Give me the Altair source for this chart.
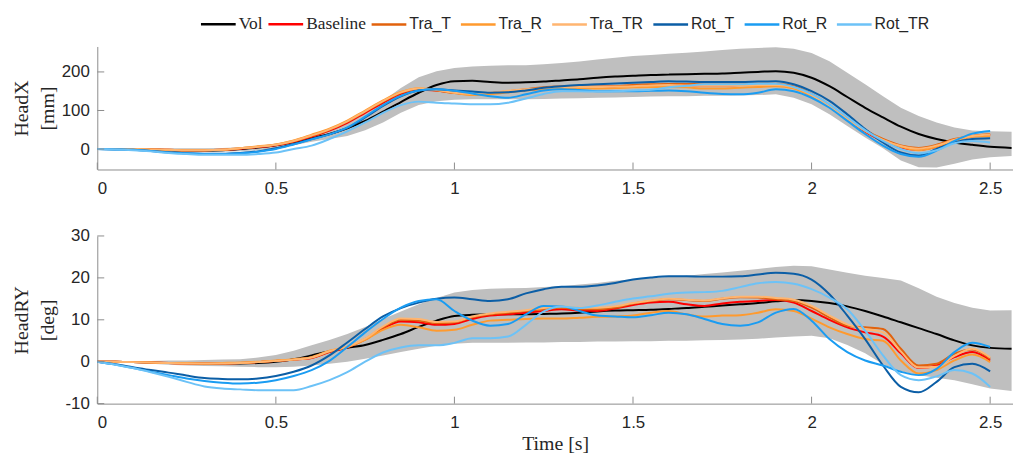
import altair as alt
import pandas as pd

# ---------------- data ----------------
T = [0.0, 0.05, 0.1, 0.15, 0.2, 0.25, 0.3, 0.35, 0.4, 0.45, 0.5,
     0.55, 0.6, 0.65, 0.7, 0.75, 0.8, 0.85, 0.9, 0.95, 1.0,
     1.05, 1.1, 1.15, 1.2, 1.25, 1.3, 1.35, 1.4, 1.45, 1.5,
     1.55, 1.6, 1.65, 1.7, 1.75, 1.8, 1.85, 1.9, 1.95, 2.0,
     2.05, 2.1, 2.15, 2.2, 2.25, 2.3, 2.35, 2.4, 2.45, 2.5]
T_VOL = T + [2.56]

SERIES = ["Vol", "Baseline", "Tra_T", "Tra_R", "Tra_TR", "Rot_T", "Rot_R", "Rot_TR"]
COLORS = ["#000000", "#ff0000", "#e2620c", "#ff9a2e", "#ffb570", "#0b5ea6", "#1a9cf2", "#6cc2f7"]
X_TICKS = [0, 0.5, 1, 1.5, 2, 2.5]

# ---- HeadX [mm] ----
HX_VOL = [0, 0, 0, -1, -3, -4, -4, -3, 0, 4, 10,
          18, 28, 39, 54, 73, 97, 122, 146, 166, 176,
          177, 174, 172, 173, 175, 178, 181, 185, 188, 190,
          192, 193, 194, 195, 196, 198, 200, 202, 198, 185,
          163, 135, 107, 82, 58, 39, 26, 17, 11, 6, 3]
HX_HI = [0, 1, 1, 2, 2, 2, 2, 3, 5, 8, 14,
         24, 37, 50, 69, 94, 125, 158, 186, 202, 210,
         214, 216, 217, 217, 220, 223, 227, 232, 237, 241,
         244, 247, 250, 253, 257, 260, 262, 264, 260, 249,
         228, 198, 168, 137, 107, 86, 69, 56, 48, 46, 45]
HX_LO = [0, -1, -2, -3, -5, -6, -7, -7, -6, -3, 2,
         10, 19, 26, 34, 49, 69, 94, 114, 124, 128,
         129, 129, 129, 129, 130, 131, 132, 133, 134, 135,
         136, 137, 137, 138, 138, 139, 140, 142, 133, 116,
         90, 60, 30, 2, -30, -47, -48, -38, -27, -21, -18]
HX_BASE = [0, 0, 0, -1, -2, -3, -3, -2, 1, 5, 10,
           19, 32, 48, 68, 94, 120, 143, 154, 152, 146,
           143, 145, 149, 153, 157, 160, 161, 161, 162, 164,
           166, 167, 166, 165, 165, 166, 167, 167, 160, 140,
           110, 76, 45, 20, 4, -2, 6, 22, 33, 37]
HX_TRA_T = [0, 0, 0, -1, -3, -3, -3, -2, 2, 6, 11,
            20, 34, 50, 71, 97, 123, 146, 156, 152, 145,
            142, 145, 150, 155, 160, 163, 163, 162, 163, 166,
            168, 169, 169, 168, 168, 168, 169, 169, 163, 143,
            114, 80, 49, 26, 9, 3, 11, 26, 34, 39]
HX_TRA_R = [0, 0, 0, -1, -2, -3, -3, -2, 2, 7, 12,
            22, 37, 53, 74, 100, 126, 148, 158, 154, 146,
            140, 142, 147, 152, 156, 158, 158, 157, 158, 160,
            161, 161, 160, 157, 157, 159, 161, 163, 157, 137,
            109, 77, 47, 21, 6, -3, 6, 21, 32, 34]
HX_TRA_TR = [0, 0, 0, -1, -2, -3, -3, -2, 2, 6, 11,
             21, 35, 51, 72, 98, 124, 147, 157, 153, 146,
             143, 146, 151, 155, 158, 160, 161, 161, 162, 163,
             165, 166, 165, 164, 164, 165, 166, 166, 160, 140,
             111, 78, 48, 24, 8, 1, 9, 24, 34, 38]
HX_ROT_T = [0, -1, -2, -5, -8, -11, -12, -12, -10, -6, 2,
            13, 26, 38, 55, 82, 112, 137, 152, 155, 152,
            149, 146, 147, 152, 159, 163, 166, 168, 170, 172,
            174, 176, 175, 174, 174, 174, 175, 176, 168, 150,
            125, 90, 52, 17, -9, -17, 0, 17, 26, 28]
HX_ROT_R = [0, -1, -2, -5, -9, -11, -13, -13, -11, -7, 0,
            12, 25, 38, 56, 84, 114, 138, 152, 155, 151,
            144, 137, 133, 142, 152, 155, 153, 150, 150, 150,
            151, 152, 150, 146, 143, 142, 146, 155, 150, 133,
            107, 73, 39, 9, -13, -20, -4, 21, 40, 47]
HX_ROT_TR = [0, -1, -3, -6, -10, -13, -15, -15, -15, -13, -9,
             0, 9, 26, 46, 69, 94, 114, 123, 120, 118,
             116, 116, 120, 131, 143, 150, 150, 149, 150, 152,
             154, 160, 164, 168, 168, 168, 169, 169, 161, 143,
             116, 83, 49, 21, 0, -11, -3, 15, 21, 17]

# ---- HeadRY [deg] ----
RY_VOL = [0, 0, -0.1, -0.2, -0.3, -0.3, -0.4, -0.4, -0.4, -0.3, 0,
          0.6, 1.5, 2.5, 3.3, 4.0, 5.2, 6.6, 8.3, 9.8, 10.9,
          11.2, 11.3, 11.3, 11.3, 11.4, 11.5, 11.7, 12.0, 12.2, 12.3,
          12.4, 12.6, 12.8, 13.1, 13.4, 13.7, 14.0, 14.4, 14.7, 14.5,
          14.0, 13.2, 12.1, 10.8, 9.4, 8.0, 6.6, 5.1, 3.9, 3.3, 3.1]
RY_HI = [0, 0.1, 0.2, 0.2, 0.3, 0.3, 0.4, 0.5, 0.6, 1.0, 1.6,
         2.6, 3.9, 5.2, 6.6, 8.3, 10.2, 12.0, 13.7, 15.2, 16.5,
         17.1, 17.4, 17.5, 17.6, 17.8, 18.0, 18.4, 18.8, 19.3, 19.7,
         20.0, 20.2, 20.5, 20.9, 21.3, 21.7, 22.1, 22.6, 22.9, 22.8,
         22.0, 21.2, 20.5, 20.0, 19.4, 17.5, 15.5, 14.0, 12.9, 12.2, 12.3]
RY_LO = [0, -0.1, -0.3, -0.5, -0.7, -0.9, -1.0, -1.1, -1.2, -1.3, -1.3,
         -1.2, -0.9, -0.5, 0, 0.7, 1.5, 2.3, 3.1, 3.8, 4.3,
         4.5, 4.5, 4.5, 4.6, 4.6, 4.7, 4.7, 4.8, 4.8, 4.9,
         4.9, 5.0, 5.0, 5.1, 5.2, 5.3, 5.5, 5.8, 6.0, 6.2,
         5.6, 4.0, 2.0, -0.6, -2.3, -3.2, -3.8, -4.4, -5.4, -6.4, -7.0]
RY_BASE = [0, 0, -0.1, -0.2, -0.3, -0.4, -0.4, -0.4, -0.3, -0.1, 0.2,
           0.5, 0.9, 2.3, 3.4, 5.3, 7.9, 9.6, 9.4, 8.8, 9.0,
           10.2, 11.0, 11.3, 11.7, 12.1, 12.5, 12.2, 12.1, 12.7, 13.5,
           14.1, 14.3, 13.7, 13.3, 13.9, 14.3, 14.5, 14.7, 14.1, 12.1,
           10.0, 8.2, 7.0, 6.0, 2.0, -1.5, -0.9, 1.1, 2.3, 0.3]
RY_TRA_T = [0, 0, -0.1, -0.2, -0.3, -0.4, -0.4, -0.4, -0.3, -0.1, 0.2,
            0.5, 1.0, 2.4, 3.5, 5.4, 8.2, 10.0, 9.8, 9.2, 9.4,
            10.6, 11.3, 11.7, 12.1, 12.5, 12.9, 12.5, 12.5, 12.9, 13.9,
            14.5, 14.9, 14.7, 14.5, 15.0, 15.4, 15.3, 14.9, 14.5, 12.9,
            10.6, 8.6, 8.2, 7.8, 3.1, -0.9, -0.5, 1.9, 2.9, 0.7]
RY_TRA_R = [0, 0, -0.1, -0.2, -0.3, -0.3, -0.4, -0.3, -0.2, 0, 0.3,
            0.6, 1.1, 2.6, 3.5, 5.2, 7.6, 8.8, 8.2, 7.4, 7.6,
            8.8, 9.8, 10.0, 10.2, 10.3, 10.3, 10.5, 10.7, 10.8, 11.0,
            11.7, 12.1, 11.3, 10.8, 11.0, 11.1, 11.7, 12.5, 12.1, 10.3,
            8.2, 6.6, 5.4, 5.0, 0.3, -2.8, -2.0, 0.3, 1.7, -0.1]
RY_TRA_TR = [0, 0, -0.1, -0.2, -0.3, -0.4, -0.4, -0.4, -0.3, -0.1, 0.2,
             0.5, 1.0, 2.5, 3.6, 5.5, 8.4, 10.3, 10.2, 9.5, 9.6,
             10.8, 11.5, 11.9, 12.3, 12.8, 13.2, 12.9, 12.9, 13.2, 14.0,
             14.6, 15.0, 14.8, 14.6, 15.1, 15.5, 15.5, 15.2, 14.8, 13.3,
             11.0, 8.9, 7.8, 7.0, 2.4, -1.4, -1.2, 1.4, 3.1, 1.0]
RY_ROT_T = [0, -0.6, -1.3, -2.0, -2.6, -3.3, -3.9, -4.1, -4.2, -4.0, -3.4,
            -2.4, -0.9, 1.5, 4.6, 7.8, 10.8, 12.8, 14.1, 15.0, 15.3,
            14.9, 14.5, 14.9, 16.3, 17.3, 17.9, 17.9, 18.2, 18.8, 19.6,
            20.1, 20.4, 20.4, 20.3, 20.3, 20.4, 20.8, 21.2, 21.0, 19.6,
            16.1, 11.0, 5.4, -0.9, -6.0, -7.3, -4.8, -1.3, -0.5, -2.3]
RY_ROT_R = [0, -0.7, -1.5, -2.4, -3.2, -4.0, -4.6, -5.0, -5.2, -5.0, -4.4,
            -3.4, -2.0, 0.2, 3.5, 7.0, 10.2, 12.9, 14.5, 14.9, 12.1,
            9.8, 8.6, 9.0, 11.3, 13.3, 13.2, 12.1, 11.0, 10.8, 10.6,
            11.1, 11.7, 11.3, 10.2, 9.0, 8.6, 9.4, 11.7, 12.6, 9.8,
            5.4, 2.3, 0.3, -0.9, -2.4, -3.2, -1.7, 2.3, 4.5, 3.5]
RY_ROT_TR = [0, -0.7, -1.5, -2.5, -3.6, -4.8, -5.9, -6.4, -6.6, -6.8, -6.8,
             -6.8, -5.8, -4.4, -2.5, 0, 2.2, 3.4, 3.9, 3.9, 4.5,
             5.6, 5.6, 6.0, 8.8, 12.0, 13.2, 12.8, 13.4, 14.3, 15.1,
             15.6, 16.2, 16.5, 16.6, 16.9, 17.8, 18.7, 19.0, 18.6, 17.3,
             15.3, 12.5, 7.4, 1.5, -3.2, -4.4, -3.5, -2.0, -2.8, -6.0]


def lines_df(vol, base, others):
    rows = []
    for t, v in zip(T_VOL, vol):
        rows.append({"t": t, "value": v, "series": "Vol"})
    for t, v in zip(T, base):
        rows.append({"t": t, "value": v, "series": "Baseline"})
    for name, vals in zip(SERIES[2:], others):
        for t, v in zip(T, vals):
            rows.append({"t": t, "value": v, "series": name})
    return pd.DataFrame(rows)


def band_df(lo, hi):
    return pd.DataFrame({"t": T_VOL, "lo": lo, "hi": hi})


AXIS_GRAY = "#8c8c8c"
TEXT = "#262626"
X_DOMAIN = [0, 2.564]
W = 923

# a long horizontal stroke starting at the left edge of its layout box
LINE_SYMBOL = "M-1,0L2.5,0"

LEG_A = alt.Legend(title=None, orient="none", legendX=103, legendY=-34,
                   direction="horizontal", symbolType=LINE_SYMBOL, symbolSize=400,
                   symbolStrokeWidth=2.5, labelFont="Liberation Serif",
                   labelFontSize=17.5, labelColor=TEXT, labelOffset=16.5,
                   columnPadding=0, padding=0)
LEG_B = alt.Legend(title=None, orient="none", legendX=275, legendY=-34,
                   direction="horizontal", symbolType=LINE_SYMBOL, symbolSize=400,
                   symbolStrokeWidth=2.5, labelFont="Liberation Sans",
                   labelFontSize=16, labelColor=TEXT, labelOffset=16.5,
                   columnPadding=4, padding=0)


def panel(df, band, ydomain, yvalues, ytitle, height, xtitle):
    xs = alt.Scale(domain=X_DOMAIN, nice=False, zero=False)
    ys = alt.Scale(domain=ydomain, nice=False, zero=False)
    xaxis = alt.Axis(values=X_TICKS, format="~g", title=xtitle)
    yaxis = alt.Axis(values=yvalues, labelExpr="'' + datum.value", title=ytitle)
    x = alt.X("t:Q", scale=xs, axis=xaxis)

    area = alt.Chart(band).mark_area(color="#bfbfbf", opacity=1, clip=True).encode(
        x=x, y=alt.Y("lo:Q", scale=ys, axis=yaxis), y2="hi:Q")

    dA = df[df.series.isin(SERIES[:2])]
    dB = df[~df.series.isin(SERIES[:2])]
    la = alt.Chart(dA).mark_line(strokeWidth=2, clip=True, interpolate="monotone").encode(
        x=x, y=alt.Y("value:Q", scale=ys, axis=yaxis),
        stroke=alt.Stroke("series:N", scale=alt.Scale(domain=SERIES[:2], range=COLORS[:2]),
                          legend=LEG_A))
    lb = alt.Chart(dB).mark_line(strokeWidth=2, clip=True, interpolate="monotone").encode(
        x=x, y=alt.Y("value:Q", scale=ys, axis=yaxis),
        color=alt.Color("series:N", scale=alt.Scale(domain=SERIES[2:], range=COLORS[2:]),
                        legend=LEG_B))

    xt = alt.Chart(pd.DataFrame({"t": X_TICKS})).mark_rule(color=AXIS_GRAY, strokeWidth=1).encode(
        x=x, y=alt.value(height), y2=alt.value(height - 7))
    yt = alt.Chart(pd.DataFrame({"value": yvalues})).mark_rule(color=AXIS_GRAY, strokeWidth=1).encode(
        y=alt.Y("value:Q", scale=ys, axis=yaxis), x=alt.value(0), x2=alt.value(7))

    return alt.layer(area, la, lb, xt, yt).properties(width=W, height=height)


top = panel(lines_df(HX_VOL, HX_BASE, [HX_TRA_T, HX_TRA_R, HX_TRA_TR, HX_ROT_T, HX_ROT_R, HX_ROT_TR]),
            band_df(HX_LO, HX_HI), [-53, 266], [0, 100, 200], ["HeadX", "[mm]"], 124, None)
bottom = panel(lines_df(RY_VOL, RY_BASE, [RY_TRA_T, RY_TRA_R, RY_TRA_TR, RY_ROT_T, RY_ROT_R, RY_ROT_TR]),
               band_df(RY_LO, RY_HI), [-10, 30], [-10, 0, 10, 20, 30], ["HeadRY", "[deg]"], 169,
               "Time [s]")

chart = alt.vconcat(top, bottom, spacing=67, bounds="flush").configure(
    padding={"left": 4, "top": 3, "right": 0, "bottom": 0},
    font="Liberation Sans",
).configure_view(stroke=None).configure_axis(
    grid=False, domainColor=AXIS_GRAY, domainWidth=1, ticks=False,
    labelColor=TEXT, labelFont="Liberation Sans", labelFontSize=17,
    titleFont="Liberation Serif", titleFontSize=20, titleColor=TEXT,
    titleFontWeight="normal",
).configure_axisX(labelPadding=11, titlePadding=3).configure_axisY(
    labelPadding=8, minExtent=37, maxExtent=37, titlePadding=3, titleLineHeight=26)

chart.save("out.html", embed_options={"renderer": "svg", "actions": False})
